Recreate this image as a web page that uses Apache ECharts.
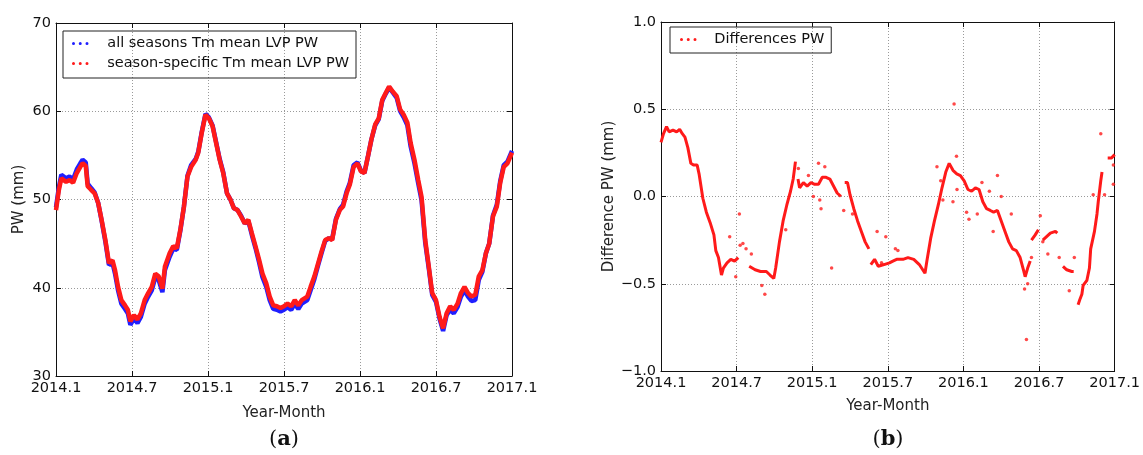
<!DOCTYPE html>
<html><head><meta charset="utf-8">
<script src="https://cdn.jsdelivr.net/npm/echarts@6/dist/echarts.min.js"></script>
<style>html,body{margin:0;padding:0;background:#fff}#c{width:1143px;height:455px}</style>
</head><body><div id="c"></div>
<script>
// x values are months elapsed since 2014.1
const xTickLabels = ['2014.1','2014.7','2015.1','2015.7','2016.1','2016.7','2017.1'];
const pwYTicks = [30,40,50,60,70];
const diffYTickLabels = ['\u22121.0','\u22120.5','0.0','0.5','1.0'];

const pwMonths = [0,0.23,0.42,0.8,1.07,1.35,1.64,1.92,2.1,2.35,2.5,2.77,3.05,3.33,3.6,3.9,4.18,4.46,4.66,4.9,5.16,5.45,5.67,5.87,6.15,6.43,6.7,7.0,7.28,7.56,7.84,8.1,8.4,8.6,8.97,9.25,9.54,9.82,10.1,10.38,10.67,11.03,11.23,11.5,11.8,12.07,12.36,12.64,12.92,13.2,13.5,13.77,14.05,14.33,14.6,14.9,15.18,15.46,15.75,16.03,16.3,16.6,16.87,17.15,17.44,17.72,18.0,18.28,18.57,18.85,19.13,19.4,19.84,20.1,20.4,20.7,20.96,21.25,21.53,21.8,22.1,22.4,22.66,22.94,23.2,23.5,23.8,24.07,24.35,24.63,24.9,25.2,25.48,25.76,26.04,26.3,26.6,26.9,27.17,27.45,27.74,28.0,28.3,28.6,28.86,29.15,29.43,29.7,30.0,30.28,30.56,30.84,31.12,31.4,31.7,31.97,32.25,32.53,32.8,33.1,33.38,33.66,33.94,34.2,34.5,34.8,35.07,35.35,35.64,36];
const pwSeasonSpecific = [48.8,51.1,52.4,52.0,52.2,51.9,53.0,53.7,54.1,53.8,51.5,51.1,50.7,49.6,47.7,45.4,42.8,43.1,42.0,40.1,38.6,38.0,37.5,36.2,36.9,36.4,37.1,38.6,39.4,40.1,41.6,41.3,39.9,42.4,43.9,44.7,44.5,46.6,49.2,52.6,53.7,54.5,55.3,57.5,59.6,59.2,58.3,56.4,54.5,53.0,50.7,50.0,49.0,48.8,48.1,47.3,47.7,46.2,44.7,43.2,41.6,40.5,39.0,38.0,37.9,37.7,37.9,38.2,37.9,38.6,38.0,38.6,39.0,40.1,41.3,42.8,44.1,45.4,45.6,45.4,47.7,48.8,49.2,50.7,51.7,53.7,54.1,53.2,53.0,54.9,56.8,58.5,59.2,61.3,62.1,62.8,62.2,61.7,60.2,59.6,58.7,56.4,54.5,52.2,50.3,45.4,42.4,39.4,38.6,36.7,35.4,37.1,37.9,37.5,38.2,39.4,40.1,39.4,39.0,39.2,41.3,42.0,43.9,45.0,48.1,49.2,51.9,53.7,54.1,55.3];
const pwAllSeasons = [49.1,51.4,52.8,52.4,52.6,52.3,53.4,54.1,54.5,54.2,51.8,51.3,50.8,49.6,47.6,45.2,42.6,42.8,41.6,39.7,38.2,37.6,37.1,35.8,36.5,36.0,36.7,38.2,39.0,39.7,41.2,40.9,39.5,42.0,43.5,44.4,44.3,46.5,49.2,52.7,53.9,54.6,55.4,57.6,59.7,59.3,58.4,56.5,54.6,53.1,50.7,50.0,49.0,48.8,48.2,47.3,47.6,46.0,44.5,42.9,41.2,40.1,38.6,37.6,37.5,37.3,37.5,37.8,37.5,38.2,37.6,38.2,38.6,39.7,41.0,42.6,43.9,45.3,45.6,45.5,47.8,48.9,49.4,50.9,51.9,53.9,54.2,53.3,53.0,54.9,56.8,58.4,59.1,61.2,62.0,62.7,62.1,61.5,60.0,59.3,58.4,56.0,54.1,51.8,49.9,45.1,42.2,39.2,38.4,36.5,35.1,36.9,37.5,37.1,37.8,39.0,39.7,39.0,38.5,38.6,40.9,41.8,43.9,45.0,48.2,49.4,52.1,53.9,54.3,55.5];

// main run of the differences (null = gap)
const diffMonths = [0,0.2,0.44,0.65,0.95,1.24,1.48,1.69,1.9,2.13,2.37,2.58,2.87,3.02,3.32,3.6,3.9,4.2,4.35,4.56,4.8,4.95,5.24,5.54,5.84,6.13,6.2,7.0,7.47,7.9,8.36,8.65,8.95,9.1,9.4,9.69,9.98,10.28,10.49,10.67,10.75,10.87,11.0,11.3,11.6,11.9,12.2,12.5,12.8,13.1,13.4,13.69,13.98,14.28,14.4,14.58,14.8,15.0,15.3,15.6,15.9,16.2,16.5,16.58,16.65,16.95,17.24,17.7,18.13,18.4,18.7,19.2,19.6,20.06,20.5,20.95,21.1,21.4,21.7,22.0,22.3,22.6,22.87,23.17,23.47,23.76,24.06,24.36,24.65,24.95,25.24,25.54,25.84,26.13,26.4,26.7,27.0,27.3,27.6,27.9,28.2,28.5,28.8,28.9,29.1,29.3,29.35,29.4,29.7,29.95,30.0,30.3,30.6,30.9,31.3,31.45,31.6,31.9,32.2,32.6,32.75,32.9,33.1,33.24,33.4,33.5,33.8,34.0,34.1,34.4,34.6,34.7,34.9,35.0,35.16,35.45,35.75,36];
const diffValues = [0.31,0.36,0.4,0.37,0.38,0.37,0.385,0.36,0.34,0.28,0.19,0.18,0.18,0.13,-0.01,-0.09,-0.15,-0.22,-0.31,-0.35,-0.45,-0.41,-0.38,-0.36,-0.37,-0.35,null,-0.4,-0.42,-0.43,-0.43,-0.45,-0.47,-0.41,-0.26,-0.14,-0.05,0.03,0.1,0.2,null,0.1,0.05,0.08,0.06,0.08,0.07,0.07,0.11,0.11,0.1,0.06,0.02,0.0,null,0.08,0.08,0.01,-0.07,-0.14,-0.2,-0.26,-0.3,null,-0.39,-0.36,-0.4,-0.39,-0.38,-0.37,-0.36,-0.36,-0.35,-0.36,-0.39,-0.44,-0.37,-0.24,-0.14,-0.05,0.05,0.14,0.19,0.15,0.13,0.12,0.09,0.04,0.03,0.05,0.04,-0.03,-0.07,-0.08,-0.09,-0.08,-0.14,-0.2,-0.26,-0.3,-0.31,-0.35,-0.43,-0.46,-0.41,-0.37,null,-0.25,-0.22,-0.19,null,-0.25,-0.23,-0.21,-0.2,-0.21,null,-0.4,-0.42,-0.43,-0.43,null,-0.62,-0.59,-0.56,-0.51,-0.48,-0.41,-0.3,-0.2,-0.1,-0.03,0.09,0.14,null,0.22,0.22,0.24,0.26];
// isolated difference points
const outlierMonths = [5.45,5.93,6.22,6.28,6.5,6.75,7.17,8.0,8.24,9.9,10.9,11.7,12.09,12.5,12.6,12.7,13.0,13.54,14.5,15.2,17.15,17.5,17.84,18.6,18.8,21.9,22.2,22.37,23.17,23.26,23.45,23.49,24.25,24.44,25.1,25.47,26.06,26.36,26.7,27.0,27.8,28.85,29.0,29.1,29.4,30.1,30.3,30.7,31.6,32.4,32.8,34.3,34.9,35.2,35.9,35.9];
const outlierValues = [-0.23,-0.46,-0.1,-0.28,-0.27,-0.3,-0.33,-0.51,-0.56,-0.19,0.16,0.12,0.0,0.19,-0.02,-0.07,0.17,-0.41,-0.08,-0.1,-0.2,-0.38,-0.23,-0.3,-0.31,0.17,0.09,-0.02,-0.03,0.53,0.23,0.04,-0.09,-0.13,-0.1,0.08,0.03,-0.2,0.12,0.0,-0.1,-0.53,-0.82,-0.5,-0.35,-0.11,-0.26,-0.33,-0.35,-0.54,-0.35,0.01,0.36,0.01,0.18,0.07];

const pair = (xs, ys) => xs.map((x, i) => [x, ys[i]]);
const dotsIcon = 'path://M0,2a2,2 0 1,0 4,0a2,2 0 1,0 -4,0zM9,2a2,2 0 1,0 4,0a2,2 0 1,0 -4,0zM18,2a2,2 0 1,0 4,0a2,2 0 1,0 -4,0z';
const FONT = 'DejaVu Sans';
const gridLine = {show: true, lineStyle: {color: '#9a9a9a', type: [1, 2], width: 1}};
const frame = {show: true, onZero: false, lineStyle: {color: '#111', width: 1}};
const tick = {show: true, inside: true, length: 5, lineStyle: {color: '#111'}};

function xAxes(gi) {
  const base = {type: 'value', gridIndex: gi, min: 0, max: 36, interval: 6, axisLine: frame, axisTick: tick};
  return [
    Object.assign({}, base, {position: 'bottom', splitLine: gridLine,
      name: 'Year-Month', nameLocation: 'middle', nameGap: gi === 0 ? 30 : 28,
      nameTextStyle: {fontFamily: FONT, fontSize: 15, color: '#222'},
      axisLabel: {fontFamily: FONT, fontSize: 14.5, color: '#111', margin: 5,
        formatter: v => xTickLabels[Math.round(v / 6)]}}),
    Object.assign({}, base, {position: 'top', splitLine: {show: false}, axisLabel: {show: false}})
  ];
}
function yAxes(gi, min, max, interval, name, labels, gap) {
  const base = {type: 'value', gridIndex: gi, min, max, interval, axisLine: frame, axisTick: tick};
  return [
    Object.assign({}, base, {position: 'left', splitLine: gridLine,
      name, nameLocation: 'middle', nameGap: gap, nameRotate: 90,
      nameTextStyle: {fontFamily: FONT, fontSize: 15, color: '#222'},
      axisLabel: {fontFamily: FONT, fontSize: 14.5, color: '#111', margin: 5,
        formatter: v => labels[Math.round((v - min) / interval)]}}),
    Object.assign({}, base, {position: 'right', splitLine: {show: false}, axisLabel: {show: false}})
  ];
}

const chart = echarts.init(document.getElementById('c'), null, {renderer: 'canvas'});
chart.setOption({
  backgroundColor: '#fff',
  animation: false,
  grid: [
    {left: 56, top: 23, width: 456, height: 353},
    {left: 661, top: 22, width: 455, height: 349}
  ],
  xAxis: [...xAxes(0), ...xAxes(1)],
  yAxis: [
    ...yAxes(0, 30, 70, 10, 'PW (mm)', pwYTicks.map(String), 29),
    ...yAxes(1, -1, 1, 0.5, 'Difference PW (mm)', diffYTickLabels, 44)
  ],
  legend: [
    {orient: 'vertical', left: 63, top: 31, padding: [4, 7, 6, 9], itemGap: 3,
      itemWidth: 22, itemHeight: 3, borderColor: '#222', borderWidth: 1,
      textStyle: {fontFamily: FONT, fontSize: 14.5, color: '#111', lineHeight: 17, padding: [0, 0, 0, 11]},
      data: [{name: 'all seasons Tm mean LVP PW', icon: dotsIcon},
             {name: 'season-specific Tm mean LVP PW', icon: dotsIcon}]},
    {orient: 'vertical', left: 670, top: 27, padding: [4, 7, 5, 10],
      itemWidth: 22, itemHeight: 3, borderColor: '#222', borderWidth: 1,
      textStyle: {fontFamily: FONT, fontSize: 14.5, color: '#111', lineHeight: 17, padding: [0, 0, 0, 10]},
      data: [{name: 'Differences PW', icon: dotsIcon}]}
  ],
  series: [
    {name: 'all seasons Tm mean LVP PW', type: 'line', xAxisIndex: 0, yAxisIndex: 0,
      data: pair(pwMonths, pwAllSeasons), showSymbol: false, color: '#1f1fff',
      lineStyle: {width: 4.5, color: '#1f1fff'}},
    {name: 'season-specific Tm mean LVP PW', type: 'line', xAxisIndex: 0, yAxisIndex: 0,
      data: pair(pwMonths, pwSeasonSpecific), showSymbol: false, color: '#ff1a1a',
      lineStyle: {width: 4.5, color: '#ff1a1a'}},
    {name: 'Differences PW', type: 'line', xAxisIndex: 2, yAxisIndex: 2,
      data: pair(diffMonths, diffValues), showSymbol: false, connectNulls: false, color: '#ff1a1a',
      lineStyle: {width: 3, color: '#ff1a1a'}},
    {name: 'Differences PW', type: 'scatter', xAxisIndex: 2, yAxisIndex: 2,
      data: pair(outlierMonths, outlierValues), symbolSize: 3.5, color: '#ff1a1a',
      itemStyle: {color: '#ff1a1a'}}
  ],
  graphic: [
    {type: 'text', x: 284, y: 440, style: {text: '{p|(}{b|a}{p|)}', align: 'center', verticalAlign: 'middle',
      rich: {p: {fontFamily: 'DejaVu Serif', fontSize: 21, fill: '#111'}, b: {fontFamily: 'DejaVu Serif', fontWeight: 'bold', fontSize: 21, fill: '#111'}}}},
    {type: 'text', x: 888, y: 440, style: {text: '{p|(}{b|b}{p|)}', align: 'center', verticalAlign: 'middle',
      rich: {p: {fontFamily: 'DejaVu Serif', fontSize: 21, fill: '#111'}, b: {fontFamily: 'DejaVu Serif', fontWeight: 'bold', fontSize: 21, fill: '#111'}}}}
  ]
});
</script></body></html>
